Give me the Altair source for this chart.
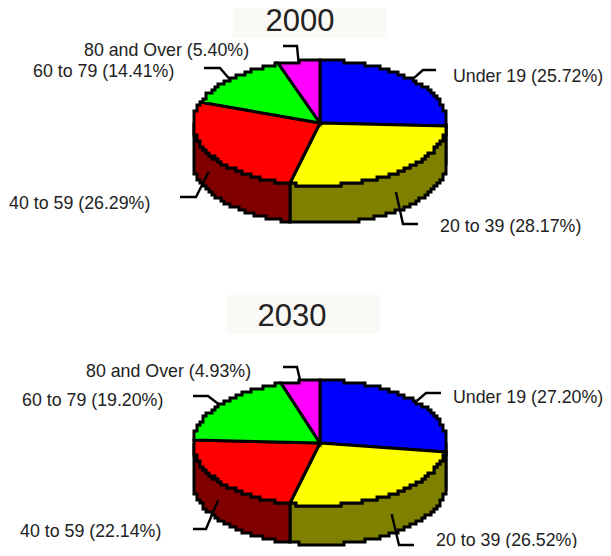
import math
import altair as alt

groups = ["Under 19", "20 to 39", "40 to 59", "60 to 79", "80 and Over"]
shares_2000 = [25.72, 28.17, 26.29, 14.41, 5.40]
shares_2030 = [27.20, 26.52, 22.14, 19.20, 4.93]
years = ["2000", "2030"]
top_colors = ["#0000ff", "#ffff00", "#ff0000", "#00ff00", "#ff00ff"]
side_colors = ["#000080", "#808000", "#800000", "#008000", "#800080"]

# layout (page pixels)
RX, RY, STEP = 127, 62.5, 3
pies = {
    "2000": dict(cx=320, cy=123, depth=38, band=(233, 8, 387, 38), title=(300, 22)),
    "2030": dict(cx=320, cy=443, depth=39, band=(227, 295, 380, 334), title=(292, 317)),
}
elbows = {
    "2000": [(423, 70, 436, 70), (403, 224, 418, 224), (196, 197, 180, 197), (220, 68, 204, 68), (297, 46, 283, 46)],
    "2030": [(426, 393, 441, 393), (399, 545, 414, 545), (206, 529, 193, 529), (208, 396, 193, 396), (297, 367, 283, 367)],
}
label_pos = {
    "2000": [(453, 76.5), (440, 226.5), (9, 203.5), (33, 71.5), (84, 50.5)],
    "2030": [(453, 397.5), (436, 540.5), (20, 531.5), (22, 400.5), (86, 371.5)],
}


def snap(v):
    return round(v / STEP) * STEP


def arc(cx, cy, a1, a2, dy=0, jag=True):
    n = max(2, int(abs(a2 - a1) * 1.5))
    pts = []
    for i in range(n + 1):
        a = math.radians(a1 + (a2 - a1) * i / n)
        x = cx + RX * math.sin(a)
        y = cy - RY * math.cos(a) + dy
        if jag:
            x, y = snap(x - cx) + cx, snap(y - cy) + cy
            if pts and pts[-1] == [x, y]:
                continue
            if pts:
                pts.append([x, pts[-1][1]])
        pts.append([x, y])
    return pts


def poly(ring, color):
    ring = ring + [ring[0]]
    return {"type": "Feature", "properties": {"color": color},
            "geometry": {"type": "Polygon", "coordinates": [ring]}}


bands, sides, tops, leaders, labels, titles = [], [], [], [], [], []
for year, shares in zip(years, [shares_2000, shares_2030]):
    p = pies[year]
    cx, cy, d = p["cx"], p["cy"], p["depth"]
    x0, y0, x1, y1 = p["band"]
    bands.append(poly([[x0, y0], [x1, y0], [x1, y1], [x0, y1]], "#fbf9f6"))
    titles.append({"t": year, "lon": p["title"][0], "lat": p["title"][1]})
    start = 0.0
    year_sides, year_tops = [], []
    for i, s in enumerate(shares):
        a1 = start
        a2 = start + s * 3.6
        start = a2
        year_tops.append(poly([[cx, cy]] + arc(cx, cy, a1, a2), top_colors[i]))
        v1, v2 = max(a1, 90), min(a2, 270)
        if v1 < v2:
            year_sides.append(poly(arc(cx, cy, v1, v2) + arc(cx, cy, v2, v1, d), side_colors[i]))
        mid = math.radians((a1 + a2) / 2)
        ax = cx + RX * math.sin(mid)
        ay = cy - RY * math.cos(mid)
        if 90 < math.degrees(mid) < 270:
            ay += d / 2
        ex, ey, fx, fy = elbows[year][i]
        leaders.append({"type": "Feature", "properties": {},
                        "geometry": {"type": "LineString", "coordinates": [[ax, ay], [ex, ey], [fx, fy]]}})
        lx, ly = label_pos[year][i]
        labels.append({"t": f"{groups[i]} ({s:.2f}%)", "lon": lx, "lat": ly})
    sides += year_sides
    tops += year_tops

proj = alt.Projection(type="identity", scale=1, translate=[-8, -8])


def shapes(features, **kw):
    return alt.Chart(alt.Data(values=features)).mark_geoshape(**kw).encode(
        fill=alt.Fill("properties.color:N", scale=None)
    ).project(**proj.to_dict())


band_layer = shapes(bands, stroke=None, strokeWidth=0)
side_layer = shapes(sides, stroke="black", strokeWidth=3, strokeJoin="miter")
top_layer = shapes(tops, stroke="black", strokeWidth=3, strokeJoin="miter")
leader_layer = alt.Chart(alt.Data(values=leaders)).mark_geoshape(
    filled=False, stroke="black", strokeWidth=2.4, strokeJoin="miter"
).project(**proj.to_dict())
label_layer = alt.Chart(alt.Data(values=labels)).mark_text(
    align="left", baseline="middle", font="Liberation Sans", fontSize=17.8, color="#222222"
).encode(longitude="lon:Q", latitude="lat:Q", text="t:N").project(**proj.to_dict())
title_layer = alt.Chart(alt.Data(values=titles)).mark_text(
    align="center", baseline="middle", font="Liberation Sans", fontSize=31, color="#222222"
).encode(longitude="lon:Q", latitude="lat:Q", text="t:N").project(**proj.to_dict())

chart = alt.layer(
    band_layer, side_layer, leader_layer, top_layer, label_layer, title_layer
).properties(
    width=595, height=540, padding=0, autosize=alt.AutoSizeParams(type="none")
).configure_view(stroke=None)

chart.save("out.html", embed_options={"renderer": "svg", "actions": False})
